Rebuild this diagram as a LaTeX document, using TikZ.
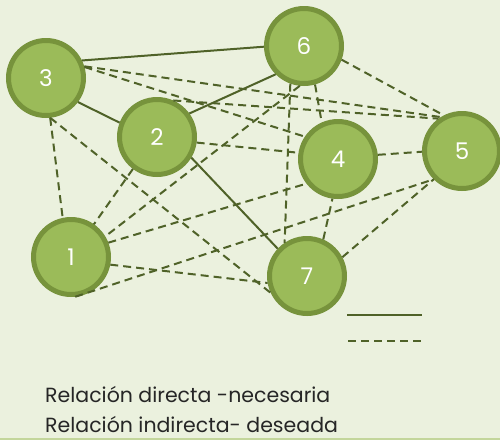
\documentclass[tikz,border=0pt]{standalone}
\usepackage{fontspec}
\setmainfont{Poppins}
\usepackage{xcolor}
\usepackage{tikz}
\usetikzlibrary{positioning, calc}

\definecolor{bgcol}{HTML}{EBF1DE}
\definecolor{nodefill}{HTML}{9BBB59}
\definecolor{nodeborder}{HTML}{77933C}
\definecolor{linecol}{HTML}{4F6228}
\definecolor{rulecol}{HTML}{C3D69B}

\begin{document}
\begin{tikzpicture}[x=1pt, y=-1pt]

% ---- Styles -----------------------------------------------------------------
\tikzset{
  elem/.style={circle, draw=nodeborder, fill=nodefill, line width=5pt,
               minimum size=75pt, inner sep=0pt, text=white,
               font=\fontsize{23}{23}\selectfont},
  direct/.style={draw=linecol, line width=2pt},
  indirect/.style={direct, dash pattern=on 8pt off 5pt},
  legtext/.style={anchor=base west, inner sep=0pt, text=black!85,
                  font=\fontsize{20.5}{20.5}\selectfont},
}

% ---- Background -------------------------------------------------------------
\fill[bgcol] (0,0) rectangle (500,440);
\useasboundingbox (0,0) rectangle (500,440);
\draw[rulecol, line width=1.5pt] (0,439) -- (500,439);

% ---- Elements ---------------------------------------------------------------
\node[elem] (n1) at (71,257)  {1};
\node[elem] (n2) at (157,137) {2};
\node[elem] (n3) at (46,78)   {3};
\node[elem] (n4) at (338,159) {4};
\node[elem] (n5) at (462,151) {5};
\node[elem] (n6) at (304,46)  {6};
\node[elem] (n7) at (307,276) {7};

% ---- Direct relations (solid) -----------------------------------------------
\draw[direct] (n3.26)  -- (n6.181);
\draw[direct] (n3.-37) -- (n2.159);
\draw[direct] (n2.36)  -- (n6.225);
\draw[direct] (n2.-31) -- (n7.137);

% ---- Indirect relations (dashed) --------------------------------------------
\draw[indirect] (n3.17)   -- (n5.122);
\draw[indirect] (n3.16)   -- (n4.146);
\draw[indirect] (n3.-84)  -- (n1.102);
\draw[indirect] (n3.-84)  -- (n7.205);
\draw[indirect] (n2.66)   -- (n5.126);
\draw[indirect] (n2.-8)   -- (n4.171);
\draw[indirect] (n2.233)  -- (n1.55);
\draw[indirect] (n6.-20)  -- (n5.117);
\draw[indirect] (n6.-74)  -- (n4.114);
\draw[indirect] (n6.-110) -- (n7.124);
\draw[indirect] (n6.-96)  -- (n1.31);
\draw[indirect] (n1.21)   -- (n4.218);
\draw[indirect] (n1.-11)  -- (n7.190);
\draw[indirect] (n1.-84)  -- (n5.225);
\draw[indirect] (n7.28)   -- (n5.225);
\draw[indirect] (n7.66)   -- (n4.-98);
\draw[indirect] (n4.6)    -- (n5.181);

% ---- Legend -----------------------------------------------------------------
\coordinate (solidA) at (347,315);
\coordinate (solidB) at (422,315);
\coordinate (dashA)  at (348,341);
\coordinate (dashB)  at (422,341);
\draw[direct]   (solidA) -- (solidB);
\draw[indirect] (dashA)  -- (dashB);

\node[legtext] (ldirect)   at (45,402) {Relación directa -necesaria};
\node[legtext] (lindirect) at (45,432) {Relación indirecta- deseada};

\end{tikzpicture}
\end{document}
